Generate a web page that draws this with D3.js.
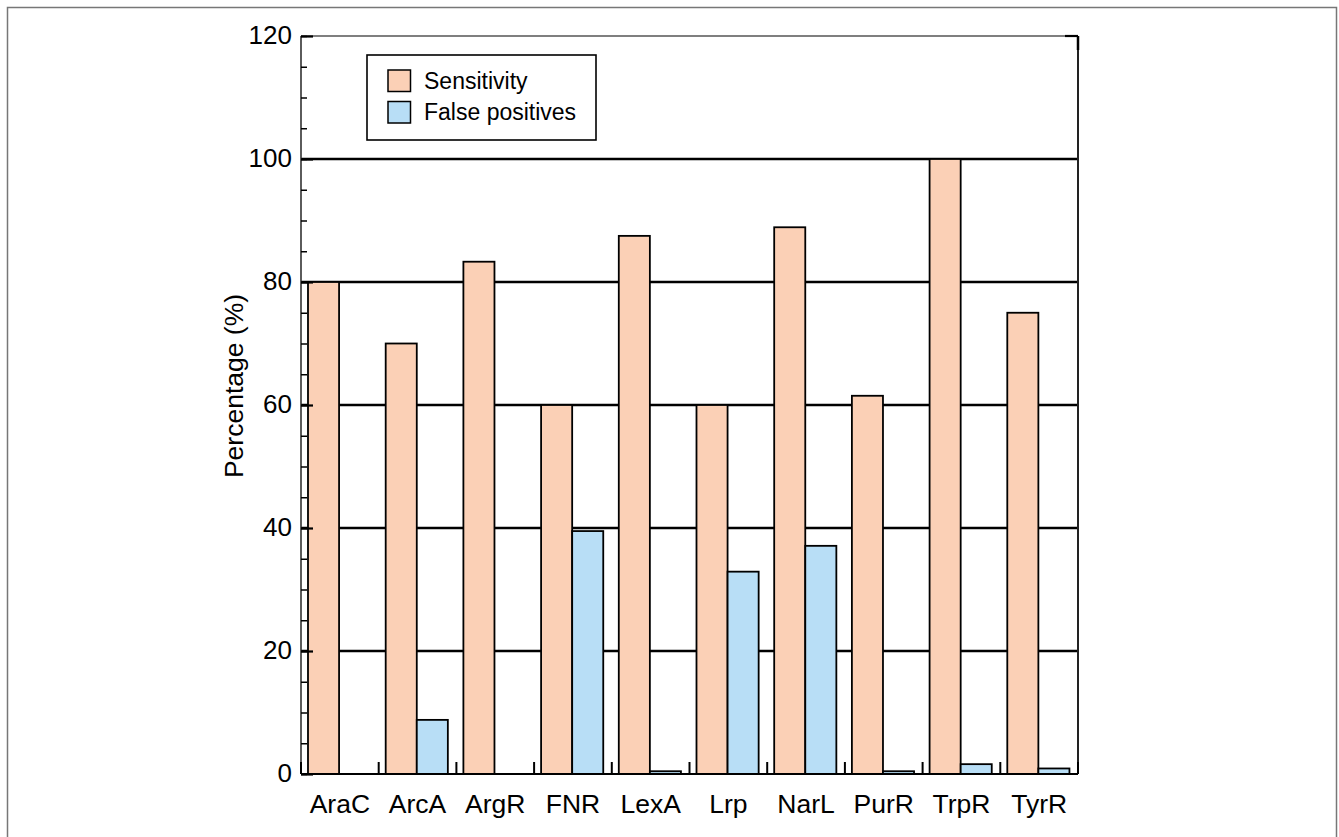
<!DOCTYPE html>
<html><head><meta charset="utf-8">
<script src="https://cdn.jsdelivr.net/npm/d3@7"></script>
<style>
html,body{margin:0;padding:0;background:#fff;}
svg{display:block;}
text{font-family:"Liberation Sans",Arial,Helvetica,sans-serif;fill:#000;}
</style></head>
<body><svg id="chart" width="1339" height="837"></svg>
<script>
const categories = ["AraC","ArcA","ArgR","FNR","LexA","Lrp","NarL","PurR","TrpR","TyrR"];
const seriesNames = ["Sensitivity","False positives"];
const sensitivity = [80, 70, 83.3, 60, 87.5, 60, 88.9, 61.5, 100, 75];
const falsePositives = [0, 8.8, 0, 39.5, 0.45, 32.9, 37.1, 0.45, 1.6, 0.9];
const majorTicks = [0, 20, 40, 60, 80, 100, 120];
const minorTicks = d3.range(0, 121, 5);
const colors = ["#FBD0B6", "#B8DEF6"];

const svg = d3.select("#chart");
const L = 301, R = 1078, T = 36, B = 774;

// outer frame
svg.append("rect").attr("x",7.5).attr("y",7.5).attr("width",1329).attr("height",845)
  .attr("fill","none").attr("stroke","#777").attr("stroke-width",1.5);

const y = d3.scaleLinear().domain([0,120]).range([B,T]);
const x0 = d3.scaleBand().domain(categories).range([L,R]).padding(0);
const x1 = d3.scaleBand().domain(seriesNames).range([0,x0.bandwidth()]).paddingInner(0).paddingOuter(0.25).align(0.45);

// gridlines
svg.append("g").selectAll("line").data(majorTicks.filter(v=>v>0 && v<120)).join("line")
  .attr("x1",L).attr("x2",R).attr("y1",d=>y(d)).attr("y2",d=>y(d))
  .attr("stroke","#000").attr("stroke-width",2.5);

// bars
const rows = categories.map((c,i)=>({cat:c, vals:[sensitivity[i], falsePositives[i]]}));
const g = svg.append("g").selectAll("g").data(rows).join("g")
  .attr("transform", d=>`translate(${x0(d.cat)},0)`);
g.selectAll("rect").data(d=>d.vals.map((v,j)=>({s:seriesNames[j], v, j}))).join("rect")
  .attr("x", d=>x1(d.s)).attr("width", x1.bandwidth())
  .attr("y", d=>y(d.v)).attr("height", d=>y(0)-y(d.v))
  .attr("fill", d=>colors[d.j]).attr("stroke","#000").attr("stroke-width",1.8)
  .attr("display", d=>d.v>0?null:"none");

// frame
svg.append("line").attr("x1",L).attr("x2",R).attr("y1",T).attr("y2",T).attr("stroke","#555").attr("stroke-width",1.5);
svg.append("line").attr("x1",R).attr("x2",R).attr("y1",T).attr("y2",B).attr("stroke","#222").attr("stroke-width",2);
svg.append("line").attr("x1",L).attr("x2",R).attr("y1",B).attr("y2",B).attr("stroke","#000").attr("stroke-width",2.2);
svg.append("line").attr("x1",L).attr("x2",L).attr("y1",T).attr("y2",B).attr("stroke","#333").attr("stroke-width",1.6);

// y axis minor ticks
const minorAxis = d3.axisLeft(y).tickValues(minorTicks).tickSize(-6).tickFormat("");
const gm = svg.append("g").attr("transform",`translate(${L},0)`).call(minorAxis);
gm.select(".domain").remove();
gm.selectAll("line").attr("stroke","#000").attr("stroke-width",1.5);

// y axis major ticks + labels
const majorAxis = d3.axisLeft(y).tickValues(majorTicks).tickSize(-12).tickPadding(9).tickFormat(d3.format("d"));
const gM = svg.append("g").attr("transform",`translate(${L},0)`).call(majorAxis);
gM.select(".domain").remove();
gM.selectAll("line").attr("stroke","#000").attr("stroke-width",2.2);
gM.selectAll("text").attr("font-size",26).attr("dy","0.3em").attr("font-family",null);

// right-side top tick
svg.append("line").attr("x1",R-13).attr("x2",R).attr("y1",y(120)).attr("y2",y(120)).attr("stroke","#000").attr("stroke-width",2.2);
svg.append("line").attr("x1",R).attr("x2",R).attr("y1",T).attr("y2",T+14).attr("stroke","#000").attr("stroke-width",2.5);

// x axis
const xAxis = d3.axisBottom(x0).tickSize(0).tickPadding(20);
const gx = svg.append("g").attr("transform",`translate(0,${B})`).call(xAxis);
gx.select(".domain").remove();
gx.selectAll("text").attr("font-size",26.5).attr("font-family",null).attr("dy","0.71em");

// x boundary ticks
const bounds = categories.map(c=>x0(c)).concat([R]);
svg.append("g").selectAll("line").data(bounds).join("line")
  .attr("x1",d=>d).attr("x2",d=>d).attr("y1",B).attr("y2",B-12)
  .attr("stroke","#000").attr("stroke-width",2);

// y label
svg.append("text").attr("transform",`translate(243,386) rotate(-90)`)
  .attr("text-anchor","middle").attr("font-size",26.5).text("Percentage (%)");

// legend
const lg = svg.append("g");
lg.append("rect").attr("x",367).attr("y",55).attr("width",229).attr("height",85)
  .attr("fill","#fff").attr("stroke","#000").attr("stroke-width",1.6);
const li = lg.selectAll("g").data(seriesNames).join("g")
  .attr("transform",(d,i)=>`translate(388,${70 + i*31.5})`);
li.append("rect").attr("width",22.5).attr("height",21.5)
  .attr("fill",(d,i)=>colors[i]).attr("stroke","#000").attr("stroke-width",1.5);
li.append("text").attr("x",36).attr("y",18.5).attr("font-size",23).text(d=>d);
</script></body></html>
